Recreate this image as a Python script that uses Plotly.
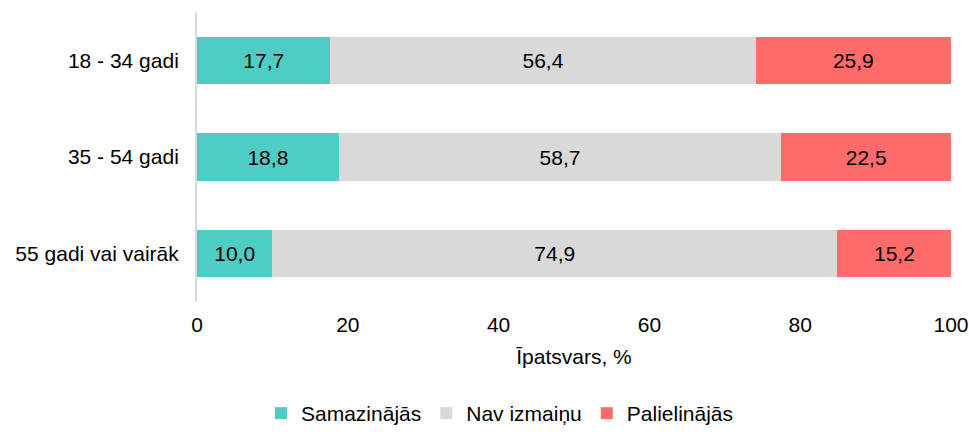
import plotly.graph_objects as go

grupas = ["18 - 34 gadi", "35 - 54 gadi", "55 gadi vai vairāk"]
samazinajas = [17.7, 18.8, 10.0]
nav_izmainu = [56.4, 58.7, 74.9]
palielinajas = [25.9, 22.5, 15.2]

serijas = [
    ("Samazinājās", samazinajas, "#4ECDC4"),
    ("Nav izmaiņu", nav_izmainu, "#D9D9D9"),
    ("Palielinājās", palielinajas, "#FF6B6B"),
]

fig = go.Figure()
for nosaukums, vertibas, krasa in serijas:
    fig.add_trace(go.Bar(
        y=grupas,
        x=vertibas,
        name=nosaukums,
        orientation="h",
        marker=dict(color=krasa, line=dict(width=0)),
        text=[f"{v:.1f}".replace(".", ",") for v in vertibas],
        textposition="inside",
        insidetextanchor="middle",
        textfont=dict(color="black", size=21),
    ))

fig.update_layout(
    barmode="stack",
    bargap=0.51,
    width=969,
    height=434,
    margin=dict(l=197, r=18, t=12, b=132, autoexpand=False),
    plot_bgcolor="white",
    paper_bgcolor="white",
    font=dict(family="Liberation Sans, Arial", size=21, color="black"),
    legend=dict(
        orientation="h",
        traceorder="normal",
        xref="container",
        yref="container",
        x=0.516,
        xanchor="center",
        y=0.0,
        yanchor="bottom",
        font=dict(size=21),
        itemwidth=30,
    ),
    uniformtext=dict(mode="show", minsize=21),
)

fig.update_xaxes(
    range=[0, 100],
    dtick=20,
    showgrid=False,
    zeroline=False,
    showline=False,
    ticks="",
    ticklabelstandoff=8,
    ticklabeloverflow="allow",
    automargin=False,
    title=dict(text="Īpatsvars, %", font=dict(size=21), standoff=14),
)
fig.update_yaxes(
    autorange="reversed",
    showgrid=False,
    showline=True,
    linecolor="#D9D9D9",
    linewidth=2,
    ticks="",
    ticklabelstandoff=12,
    automargin=False,
)

# bez lapas atkāpes, lai figūra aizpilda logu
fig.write_html(
    "out.html",
    config={"displayModeBar": False},
    post_script="document.body.style.margin='0';document.body.style.overflow='hidden';",
)
